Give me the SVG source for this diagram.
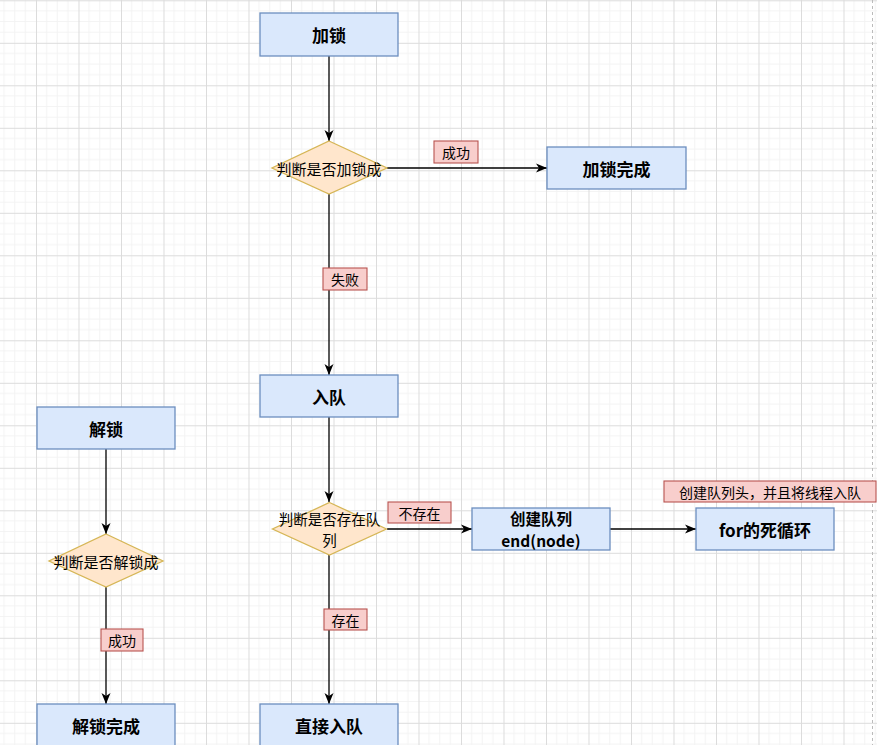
<svg xmlns="http://www.w3.org/2000/svg" width="877" height="745" viewBox="0 0 877 745">
<defs>
<pattern id="grid" patternUnits="userSpaceOnUse" x="36" y="0.3" width="42.5" height="42.5">
<path d="M10.625,0V42.5M21.25,0V42.5M31.875,0V42.5M0,10.625H42.5M0,21.25H42.5M0,31.875H42.5" stroke="#f3f3f3" stroke-width="1" fill="none"/>
<path d="M0.5,0V42.5M0,0.5H42.5" stroke="#dcdcdc" stroke-width="1" fill="none"/>
</pattern>
<marker id="arr" markerUnits="userSpaceOnUse" markerWidth="12" markerHeight="10" refX="11" refY="5" orient="auto">
<path d="M0,0.5 L11,5 L0,9.5 L3,5 Z" fill="#000"/>
</marker>
<style>
.box{fill:#dae8fc;stroke:#6c8ebf;stroke-width:1.3}
.dia{fill:#ffe6cc;stroke:#d6b656;stroke-width:1.3}
.lab{fill:#f8cecc;stroke:#b85450;stroke-width:1.1}
.bt{font-family:"Noto Sans CJK SC","Liberation Sans",sans-serif;font-size:17px;font-weight:bold;fill:#000;text-anchor:middle;dominant-baseline:central}
.bt2{font-family:"Noto Sans CJK SC","Liberation Sans",sans-serif;font-size:15.5px;font-weight:bold;fill:#000;text-anchor:middle;dominant-baseline:central}
.dt{font-family:"Noto Sans CJK SC","Liberation Sans",sans-serif;font-size:15px;fill:#000;text-anchor:middle;dominant-baseline:central}
.dt2{font-family:"Noto Sans CJK SC","Liberation Sans",sans-serif;font-size:14.5px;fill:#000;text-anchor:middle;dominant-baseline:central}
.lt{font-family:"Noto Sans CJK SC","Liberation Sans",sans-serif;font-size:14px;fill:#000;text-anchor:middle;dominant-baseline:central}
.edge{stroke:#000;stroke-width:1.3;fill:none;marker-end:url(#arr)}
</style>
</defs>
<rect width="877" height="745" fill="#fff"/>
<rect width="877" height="745" fill="url(#grid)"/>
<line x1="872.5" y1="0" x2="872.5" y2="745" stroke="#bbb" stroke-width="1" stroke-dasharray="3,3"/>

<g id="connectors">
<path class="edge" d="M329,56 V141"/>
<path class="edge" d="M387,168 H547"/>
<path class="edge" d="M329,194 V375"/>
<path class="edge" d="M329,417 V502"/>
<path class="edge" d="M387,529 H472"/>
<path class="edge" d="M610,529 H696"/>
<path class="edge" d="M329,555 V704"/>
<path class="edge" d="M106,449 V534"/>
<path class="edge" d="M106,587 V704"/>
</g>

<g id="n-lock"><rect class="box" x="260" y="13" width="138" height="43"/><text class="bt" x="329" y="34.5">加锁</text></g>
<g id="n-check-lock"><polygon class="dia" points="329,141 387,168 329,194 272,168"/><text class="dt" x="329" y="168">判断是否加锁成</text></g>
<g id="l-success1"><rect class="lab" x="434" y="141" width="44" height="22"/><text class="lt" x="456" y="152">成功</text></g>
<g id="n-lock-done"><rect class="box" x="547" y="147" width="139" height="42"/><text class="bt" x="616.5" y="168">加锁完成</text></g>
<g id="l-fail"><rect class="lab" x="323" y="268" width="44" height="22"/><text class="lt" x="345" y="279">失败</text></g>
<g id="n-enqueue"><rect class="box" x="260" y="375" width="138" height="42"/><text class="bt" x="329" y="396">入队</text></g>
<g id="n-check-queue"><polygon class="dia" points="329.5,502.5 386.5,529 329.5,555 272.5,529"/><text class="dt2" x="329.5" y="518.5">判断是否存在队</text><text class="dt2" x="329.5" y="539.5">列</text></g>
<g id="l-notexist"><rect class="lab" x="388" y="502" width="63" height="21"/><text class="lt" x="419.5" y="512.5">不存在</text></g>
<g id="n-create-queue"><rect class="box" x="472" y="508" width="138" height="42"/><text class="bt2" x="541" y="517.8">创建队列</text><text class="bt2" x="541" y="540.3">end(node)</text></g>
<g id="n-for-loop"><rect class="box" x="696" y="508" width="138" height="42"/><text class="bt" x="765" y="529">for的死循环</text></g>
<g id="l-create-head"><rect class="lab" x="664" y="481" width="212" height="21"/><text class="lt" x="770" y="491.5">创建队列头，并且将线程入队</text></g>
<g id="l-exist"><rect class="lab" x="324" y="609" width="43" height="21"/><text class="lt" x="345.5" y="619.5">存在</text></g>
<g id="n-direct-enqueue"><rect class="box" x="260" y="704" width="138" height="42"/><text class="bt" x="329" y="725">直接入队</text></g>

<g id="n-unlock"><rect class="box" x="37" y="407" width="138" height="42"/><text class="bt" x="106" y="428">解锁</text></g>
<g id="n-check-unlock"><polygon class="dia" points="106,534 163,561 106,587 49,561"/><text class="dt" x="106" y="561">判断是否解锁成</text></g>
<g id="l-success2"><rect class="lab" x="101" y="629" width="42" height="22"/><text class="lt" x="122" y="640">成功</text></g>
<g id="n-unlock-done"><rect class="box" x="37" y="704" width="138" height="42"/><text class="bt" x="106" y="725">解锁完成</text></g>
</svg>
